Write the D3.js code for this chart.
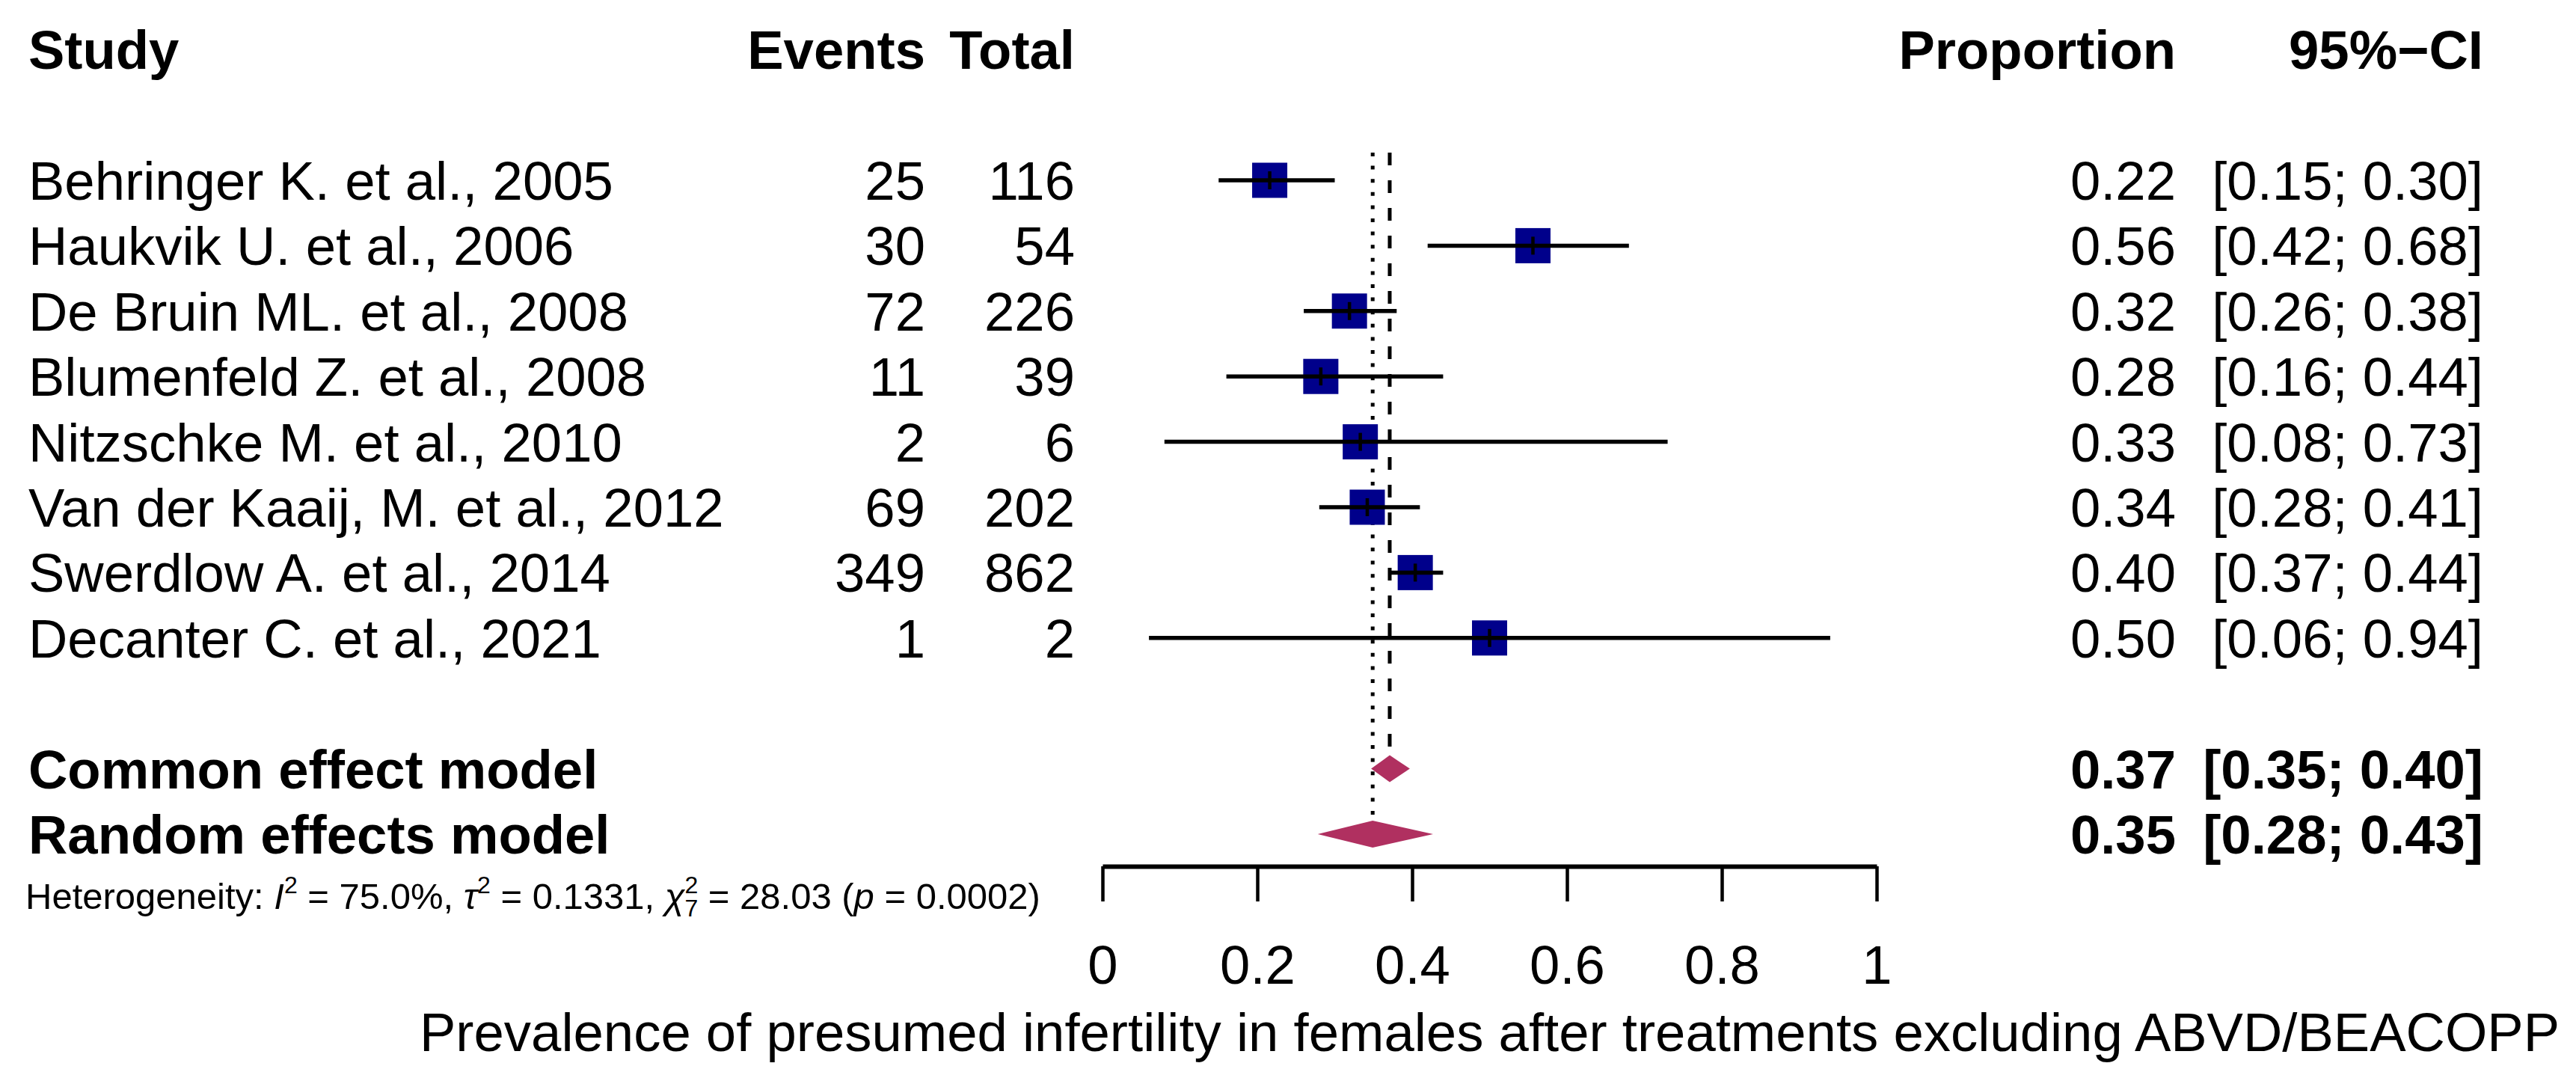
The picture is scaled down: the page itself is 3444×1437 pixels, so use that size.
<!DOCTYPE html>
<html><head><meta charset="utf-8">
<script src="https://cdn.jsdelivr.net/npm/d3@7"></script>
<style>
body{margin:0;background:#fff}
text{font-family:"Liberation Sans",Arial,Helvetica,sans-serif;fill:#000}
</style>
</head><body>
<svg id="chart" width="3444" height="1437"></svg>
<script>
// ---- data ----
const studies = ["Behringer K. et al., 2005","Haukvik U. et al., 2006","De Bruin ML. et al., 2008",
  "Blumenfeld Z. et al., 2008","Nitzschke M. et al., 2010","Van der Kaaij, M. et al., 2012",
  "Swerdlow A. et al., 2014","Decanter C. et al., 2021"];
const events = [25,30,72,11,2,69,349,1];
const totals = [116,54,226,39,6,202,862,2];
const proportion = [0.216,0.556,0.319,0.282,0.333,0.342,0.404,0.500];
const ciLower = [0.15,0.42,0.26,0.16,0.08,0.28,0.37,0.06];
const ciUpper = [0.30,0.68,0.38,0.44,0.73,0.41,0.44,0.94];
const pooledLabels = ["Common effect model","Random effects model"];
const pooledEst = [0.371,0.349];
const pooledLower = [0.347,0.278];
const pooledUpper = [0.397,0.427];
const xTicks = [0,0.2,0.4,0.6,0.8,1];
const headers = ["Study","Events","Total","Proportion","95%\u2212CI"];
const xLabel = "Prevalence of presumed infertility in females after treatments excluding ABVD/BEACOPP";

// ---- layout ----
const svg = d3.select("#chart");
const FS = 72.5;
const x = d3.scaleLinear().domain([0,1]).range([1474,2509]);
const y = d3.scaleLinear().domain([0,1]).range([241,328.4]); // row index -> y centre
const base = i => y(i) + 26;
const colStudy = 38, colEvents = 1237, colTotal = 1437, colProp = 2909, colCI = 3320;
const f2 = d3.format(".2f");
const SQ = 47, DH = 18;
const navy = "#00008B", maroon = "#B03060";

// headers
const hdr = svg.append("g").attr("font-weight","bold").attr("font-size",FS);
hdr.append("text").attr("x",colStudy).attr("y",base(-2)).text(headers[0]);
hdr.append("text").attr("x",colEvents).attr("y",base(-2)).attr("text-anchor","end").text(headers[1]);
hdr.append("text").attr("x",colTotal).attr("y",base(-2)).attr("text-anchor","end").text(headers[2]);
hdr.append("text").attr("x",colProp).attr("y",base(-2)).attr("text-anchor","end").text(headers[3]);
hdr.append("text").attr("x",colCI).attr("y",base(-2)).attr("text-anchor","end").text(headers[4]);

// reference lines
const topY = 204;
svg.append("line").attr("x1",x(pooledEst[0])).attr("x2",x(pooledEst[0]))
  .attr("y1",topY).attr("y2",y(9)-DH).attr("stroke","#000").attr("stroke-width",5)
  .attr("stroke-dasharray","17 20");
svg.append("line").attr("x1",x(pooledEst[1])).attr("x2",x(pooledEst[1]))
  .attr("y1",topY).attr("y2",y(10)-DH).attr("stroke","#000").attr("stroke-width",5)
  .attr("stroke-dasharray","5 12.6");

// study rows
const rows = svg.append("g").selectAll("g").data(studies).join("g");
rows.append("text").attr("x",colStudy).attr("y",(d,i)=>base(i)).attr("font-size",FS).text(d=>d);
rows.append("text").attr("x",colEvents).attr("y",(d,i)=>base(i)).attr("font-size",FS)
  .attr("text-anchor","end").text((d,i)=>events[i]);
rows.append("text").attr("x",colTotal).attr("y",(d,i)=>base(i)).attr("font-size",FS)
  .attr("text-anchor","end").text((d,i)=>totals[i]);
rows.append("text").attr("x",colProp).attr("y",(d,i)=>base(i)).attr("font-size",FS)
  .attr("text-anchor","end").text((d,i)=>f2(proportion[i]));
rows.append("text").attr("x",colCI).attr("y",(d,i)=>base(i)).attr("font-size",FS)
  .attr("text-anchor","end").text((d,i)=>"["+f2(ciLower[i])+"; "+f2(ciUpper[i])+"]");
rows.append("rect").attr("x",(d,i)=>x(proportion[i])-SQ/2).attr("y",(d,i)=>y(i)-SQ/2)
  .attr("width",SQ).attr("height",SQ).attr("fill",navy);
rows.append("line").attr("x1",(d,i)=>x(ciLower[i])).attr("x2",(d,i)=>x(ciUpper[i]))
  .attr("y1",(d,i)=>y(i)).attr("y2",(d,i)=>y(i)).attr("stroke","#000").attr("stroke-width",5.5);
rows.append("line").attr("x1",(d,i)=>x(proportion[i])).attr("x2",(d,i)=>x(proportion[i]))
  .attr("y1",(d,i)=>y(i)-12).attr("y2",(d,i)=>y(i)+12).attr("stroke","#000").attr("stroke-width",4.5);

// pooled rows
const pooled = svg.append("g").selectAll("g").data(pooledLabels).join("g");
pooled.append("text").attr("x",colStudy).attr("y",(d,i)=>base(9+i)).attr("font-size",FS)
  .attr("font-weight","bold").text(d=>d);
pooled.append("text").attr("x",colProp).attr("y",(d,i)=>base(9+i)).attr("font-size",FS)
  .attr("font-weight","bold").attr("text-anchor","end").text((d,i)=>f2(pooledEst[i]));
pooled.append("text").attr("x",colCI).attr("y",(d,i)=>base(9+i)).attr("font-size",FS)
  .attr("font-weight","bold").attr("text-anchor","end")
  .text((d,i)=>"["+f2(pooledLower[i])+"; "+f2(pooledUpper[i])+"]");
pooled.append("path").attr("fill",maroon).attr("d",(d,i)=>{
  const cy=y(9+i);
  return `M${x(pooledLower[i])},${cy}L${x(pooledEst[i])},${cy-DH}L${x(pooledUpper[i])},${cy}L${x(pooledEst[i])},${cy+DH}Z`;
});

// heterogeneity
const het = svg.append("text").attr("x",34).attr("y",1215).attr("font-size",49);
het.append("tspan").text("Heterogeneity: ");
het.append("tspan").attr("font-style","italic").text("I");
het.append("tspan").attr("font-size",32).attr("dy",-21).text("2");
het.append("tspan").attr("dy",21).text(" = 75.0%, ");
het.append("tspan").attr("font-style","italic").text("\u03C4");
het.append("tspan").attr("font-size",32).attr("dy",-21).text("2");
het.append("tspan").attr("dy",21).text(" = 0.1331, ");
het.append("tspan").attr("font-style","italic").text("\u03C7");
het.append("tspan").attr("font-size",32).attr("dy",-21).text("2");
het.append("tspan").attr("font-size",32).attr("dx",-18).attr("dy",31).text("7");
het.append("tspan").attr("dy",-10).text(" = 28.03 (");
het.append("tspan").attr("font-style","italic").text("p");
het.append("tspan").text(" = 0.0002)");

// axis
const axisY = 1158;
const ax = svg.append("g").attr("transform",`translate(0,${axisY})`)
  .call(d3.axisBottom(x).tickValues(xTicks).tickFormat(d=>String(d))
    .tickSize(47).tickSizeOuter(0).tickPadding(59));
ax.select(".domain").attr("stroke","#000").attr("stroke-width",6);
ax.selectAll(".tick line").attr("stroke","#000").attr("stroke-width",4.5);
ax.selectAll(".tick text").attr("font-size",FS).attr("font-family","Liberation Sans, Arial, sans-serif").attr("fill","#000");

svg.append("text").attr("x",x(0.5)).attr("y",1405).attr("font-size",FS)
  .attr("text-anchor","middle").text(xLabel);
</script>
</body></html>
